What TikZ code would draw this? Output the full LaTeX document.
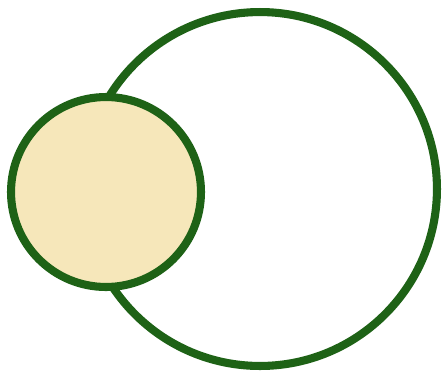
\documentclass[tikz,border=0pt]{standalone}
\usepackage[dvipsnames]{xcolor}
\usepackage{tikz}
\usetikzlibrary{positioning}
\definecolor{ringgreen}{RGB}{30,98,22}
\definecolor{sandfill}{RGB}{246,231,186}

\begin{document}
\begin{tikzpicture}[x=0.02cm, y=-0.02cm, every node/.style={inner sep=0pt, outer sep=0pt},
  ring/.style={circle, draw=ringgreen, line width=4.6pt}]
\useasboundingbox (0,0) rectangle (443,383);
\node[ring, fill=white, minimum size=7.08cm] (outer) at (260,189) {};
\node[ring, fill=sandfill, minimum size=3.8cm] (inner) at (106,192) {};
\end{tikzpicture}
\end{document}
